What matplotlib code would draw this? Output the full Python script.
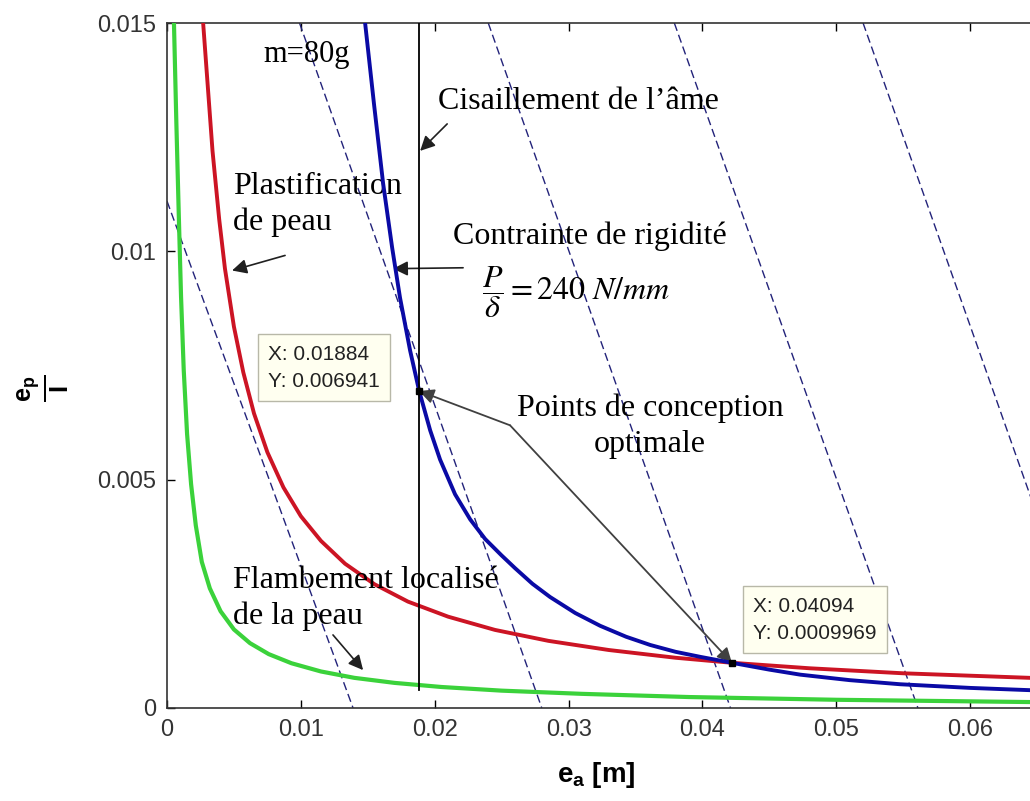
"""Optimal sandwich-beam design chart: failure-mode curves and constant-mass lines."""

import matplotlib.pyplot as plt

# Values
# Flambement localisé de la peau (green)
flambement_x = [0.00052, 0.00070, 0.00088, 0.00105, 0.00125, 0.00150, 0.00180,
                0.00215, 0.00260, 0.00320, 0.00400, 0.00500, 0.00620, 0.00760,
                0.00930, 0.0115, 0.0140, 0.0170, 0.0205, 0.0250, 0.0310,
                0.0390, 0.0500, 0.0645]
flambement_y = [0.0150, 0.0128, 0.0108, 0.0090, 0.0074, 0.0060, 0.0049, 0.0040,
                0.0032, 0.00262, 0.00212, 0.00172, 0.00142, 0.00118, 0.00098,
                0.00080, 0.00066, 0.00055, 0.00046, 0.00038, 0.00031, 0.00024,
                0.00018, 0.00013]

# Plastification de peau (red)
plastification_x = [0.0027, 0.0030, 0.0034, 0.0039, 0.00433, 0.0050, 0.0057,
                    0.0065, 0.0075, 0.0087, 0.0100, 0.0115, 0.0133, 0.0155,
                    0.0180, 0.0210, 0.0245, 0.0285, 0.0330, 0.0380, 0.0422,
                    0.0480, 0.0550, 0.0645]
plastification_y = [0.0150, 0.0138, 0.0122, 0.0107, 0.00962, 0.00835, 0.00735,
                    0.00645, 0.00560, 0.00483, 0.00420, 0.00366, 0.00316,
                    0.00271, 0.00233, 0.00200, 0.00171, 0.00147, 0.00127,
                    0.00110, 0.00099, 0.00087, 0.00076, 0.00066]

# Contrainte de rigidité P/delta = 240 N/mm (blue)
rigidite_x = [0.01480, 0.01547, 0.01614, 0.01682, 0.01741, 0.01816, 0.01884,
              0.01966, 0.02040, 0.02152, 0.02265, 0.02377, 0.0250, 0.02601,
              0.0273, 0.02862, 0.0305, 0.03236, 0.0343, 0.03610, 0.0380,
              0.03984, 0.0422, 0.0450, 0.04731, 0.0510, 0.05478, 0.0600,
              0.0645]
rigidite_y = [0.01500, 0.01321, 0.01150, 0.01008, 0.00898, 0.00783, 0.006941,
              0.00608, 0.00544, 0.00468, 0.00413, 0.00370, 0.00334, 0.00306,
              0.00272, 0.00243, 0.00208, 0.00180, 0.00156, 0.00138, 0.00123,
              0.00112, 0.00099, 0.00084, 0.00073, 0.00061, 0.00052, 0.00044,
              0.00039]

# Constant-mass lines (start point, end point)
mass_x_start = [0.0, 0.0099, 0.0240, 0.0379, 0.0520]
mass_y_start = [0.0111, 0.015, 0.015, 0.015, 0.015]
mass_x_end = [0.0139, 0.0280, 0.0421, 0.0561, 0.0701]
mass_y_end = [0.0, 0.0, 0.0, 0.0, 0.0]

# Cisaillement de l'âme (vertical limit)
cisaillement_x = 0.01884
cisaillement_y = [0.0004, 0.015]

# Optimal design points
optimum_x = [0.01884, 0.0422]
optimum_y = [0.006941, 0.00099]
optimum_labels = ["X: 0.01884\nY: 0.006941", "X: 0.04094\nY: 0.0009969"]

x_ticks = [0, 0.01, 0.02, 0.03, 0.04, 0.05, 0.06]
x_tick_labels = ["0", "0.01", "0.02", "0.03", "0.04", "0.05", "0.06"]
y_ticks = [0, 0.005, 0.01, 0.015]
y_tick_labels = ["0", "0.005", "0.01", "0.015"]

plt.rcParams["mathtext.fontset"] = "custom"
plt.rcParams["mathtext.rm"] = "Liberation Sans"
plt.rcParams["mathtext.bf"] = "Liberation Sans:bold"
plt.rcParams["mathtext.it"] = "Liberation Sans:italic"

SERIF = "Liberation Serif"
SANS = "Liberation Sans"
TEXT_SIZE = 23

figure = plt.figure(figsize=(10.30, 8.01), dpi=100)
# Axes run past the right edge of the picture, as in the reference screenshot
axis = figure.add_axes([167 / 1030, 93 / 801, 937 / 1030, 685 / 801])
axis.set_xlim(0, 0.07)
axis.set_ylim(0, 0.015)

for x0, y0, x1, y1 in zip(mass_x_start, mass_y_start, mass_x_end, mass_y_end):
    axis.plot([x0, x1], [y0, y1], color="#23237a", linewidth=1.0,
              linestyle=(0, (6, 3)), zorder=2)

axis.plot(flambement_x, flambement_y, color="#3bd23b", linewidth=3.0,
          solid_joinstyle="round", zorder=3)
axis.plot(plastification_x, plastification_y, color="#cc1424", linewidth=2.8,
          solid_joinstyle="round", zorder=3)
axis.plot(rigidite_x, rigidite_y, color="#0a0aa5", linewidth=2.8,
          solid_joinstyle="round", zorder=4)
axis.plot([cisaillement_x, cisaillement_x], cisaillement_y, color="black",
          linewidth=1.3, zorder=4)

axis.plot(optimum_x, optimum_y, linestyle="none", marker="s", markersize=5,
          color="black", zorder=6)

# Data tips
tip_offsets = [(0.00755, 0.00745), (0.0438, 0.00193)]
for (tx, ty), label in zip(tip_offsets, optimum_labels):
    axis.text(tx, ty, label, family=SANS, fontsize=15, color="#222222",
              va="center", ha="left", linespacing=1.55, zorder=7,
              bbox=dict(boxstyle="square,pad=0.5", facecolor="#fffff0",
                        edgecolor="#b8b8a8", linewidth=1.0))

arrow_style = dict(arrowstyle="-|>", color="#202020", lw=1.2,
                   mutation_scale=22, shrinkA=0, shrinkB=0)

axis.text(0.00717, 0.01432, "m=80g", family=SERIF, fontsize=TEXT_SIZE - 1,
          va="center", ha="left", zorder=5)

axis.text(0.02025, 0.01329, "Cisaillement de l’âme", family=SERIF,
          fontsize=TEXT_SIZE, va="center", ha="left")
axis.annotate("", xy=(0.01891, 0.0122), xytext=(0.02093, 0.01279),
              arrowprops=arrow_style)

axis.text(0.00493, 0.01102, "Plastification\nde peau", family=SERIF,
          fontsize=TEXT_SIZE, va="center", ha="left", linespacing=1.3)
axis.annotate("", xy=(0.00486, 0.00958), xytext=(0.00882, 0.00991),
              arrowprops=arrow_style)

axis.text(0.02138, 0.01034, "Contrainte de rigidité", family=SERIF,
          fontsize=TEXT_SIZE, va="center", ha="left")
axis.text(0.02354, 0.0091, r"$\dfrac{P}{\delta} = 240\ N/mm$",
          math_fontfamily="stix", fontsize=TEXT_SIZE, va="center",
          ha="left")
axis.annotate("", xy=(0.01689, 0.00962), xytext=(0.02212, 0.00964),
              arrowprops=arrow_style)

axis.text(0.0361, 0.00617, "Points de conception\noptimale", family=SERIF,
          fontsize=TEXT_SIZE, va="center", ha="center", linespacing=1.3)
bend = (0.02563, 0.00619)
for px, py in zip(optimum_x, optimum_y):
    axis.annotate("", xy=(px, py), xytext=bend,
                  arrowprops=dict(arrowstyle="-|>", color="#404040", lw=1.3,
                                  mutation_scale=22, shrinkA=0, shrinkB=0))

axis.text(0.00493, 0.0024, "Flambement localisé\nde la peau", family=SERIF,
          fontsize=TEXT_SIZE, va="center", ha="left", linespacing=1.3)
axis.annotate("", xy=(0.01465, 0.00083), xytext=(0.0124, 0.0016),
              arrowprops=arrow_style)

axis.set_xticks(x_ticks)
axis.set_xticklabels(x_tick_labels)
axis.set_yticks(y_ticks)
axis.set_yticklabels(y_tick_labels)
axis.tick_params(direction="in", length=6, width=1.0, top=True, right=True,
                 labelsize=17, labelcolor="#333333", pad=8)
for label in axis.get_xticklabels() + axis.get_yticklabels():
    label.set_family(SANS)
for spine in axis.spines.values():
    spine.set_color("#333333")
    spine.set_linewidth(1.2)

figure.text(596 / 1030, 1 - 775 / 801, r"e$_\mathbf{a}$ [m]", family=SANS,
            fontsize=20, fontweight="bold", ha="center", va="center")
figure.text(43 / 1030, 1 - 388 / 801, r"$\frac{\mathbf{e_p}}{\mathbf{I}}$",
            fontsize=26, rotation=90, ha="center", va="center")

figure.savefig("out.png", dpi=100)
